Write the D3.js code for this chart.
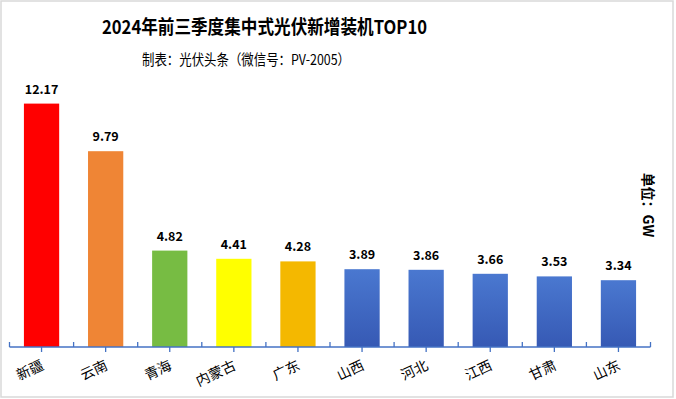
<!DOCTYPE html>
<html><head><meta charset="utf-8">
<script src="https://cdn.jsdelivr.net/npm/d3@7"></script>
<style>body{margin:0;background:#fff}svg{display:block}</style>
</head><body>
<script>
const categories = ["新疆","云南","青海","内蒙古","广东","山西","河北","江西","甘肃","山东"];
const values = [12.17,9.79,4.82,4.41,4.28,3.89,3.86,3.66,3.53,3.34];
const barColors = ["#FF0000","#EF8535","#77BC43","#FFFF00","#F4B800","blue","blue","blue","blue","blue"];
const title = "2024年前三季度集中式光伏新增装机TOP10";
const subtitle = "制表：光伏头条（微信号：PV-2005）";
const unitLabel = "单位：GW";

const W = 676, H = 399;
const svg = d3.select("body").append("svg").attr("width", W).attr("height", H);
const defs = svg.append("defs");
const grad = defs.append("linearGradient").attr("id","blueGrad").attr("x1",0).attr("y1",0).attr("x2",0).attr("y2",1);
grad.append("stop").attr("offset","0%").attr("stop-color","#4A78D0");
grad.append("stop").attr("offset","100%").attr("stop-color","#3659B4");

svg.append("rect").attr("x",1).attr("y",1).attr("width",672).attr("height",396)
  .attr("fill","#fff").attr("stroke","#D9D9D9").attr("stroke-width",1.5);

const font = "'Noto Sans CJK SC','Noto Sans',sans-serif";

svg.append("text").attr("x",102).attr("y",34)
  .attr("textLength",325).attr("lengthAdjust","spacingAndGlyphs")
  .attr("font-family",font).attr("font-weight","bold").attr("font-size",19).attr("fill","#000").text(title);
svg.append("text").attr("x",142).attr("y",65)
  .attr("textLength",208).attr("lengthAdjust","spacingAndGlyphs")
  .attr("font-family",font).attr("font-size",14.5).attr("fill","#000").text(subtitle);

const x = d3.scaleBand().domain(categories).range([9.5,650.5]).paddingInner(0.45).paddingOuter(0.225);
const y = d3.scaleLinear().domain([0,14]).range([347,67]);

svg.append("g").selectAll("rect").data(values).join("rect")
  .attr("x",(d,i)=>x(categories[i])).attr("width",x.bandwidth())
  .attr("y",d=>y(d)).attr("height",d=>y(0)-y(d))
  .attr("fill",(d,i)=>barColors[i]==="blue"?"url(#blueGrad)":barColors[i]);

svg.append("g").selectAll("text").data(values).join("text")
  .attr("x",(d,i)=>x(categories[i])+x.bandwidth()/2).attr("y",d=>y(d)-10)
  .attr("text-anchor","middle").attr("font-family",font).attr("font-weight","bold")
  .attr("font-size",12.5).attr("fill","#000").text(d=>d.toFixed(2));

// axis
const ax = svg.append("g").attr("stroke","#4472C4").attr("stroke-width",1.3);
ax.append("line").attr("x1",9.5).attr("x2",650.5).attr("y1",347).attr("y2",347);
const step = x.step();
const bounds = d3.range(categories.length+1).map(i=>9.5+i*step);
ax.selectAll("line.b").data(bounds).join("line").attr("class","b")
  .attr("x1",d=>d).attr("x2",d=>d).attr("y1",342).attr("y2",347);
ax.selectAll("line.c").data(categories).join("line").attr("class","c")
  .attr("x1",d=>x(d)+x.bandwidth()/2).attr("x2",d=>x(d)+x.bandwidth()/2).attr("y1",347).attr("y2",352);

svg.append("g").selectAll("text").data(categories).join("text")
  .attr("transform",d=>`translate(${x(d)+x.bandwidth()/2-2},358) rotate(-25)`)
  .attr("text-anchor","end").attr("dy","0.85em").attr("font-family",font).attr("font-size",14)
  .attr("fill","#000").text(d=>d);

svg.append("text").attr("transform","translate(648,205) rotate(90)").attr("text-anchor","middle")
  .attr("dy","0.35em").attr("font-family",font).attr("font-weight","bold").attr("font-size",14)
  .attr("fill","#000").text(unitLabel);
</script>
</body></html>
